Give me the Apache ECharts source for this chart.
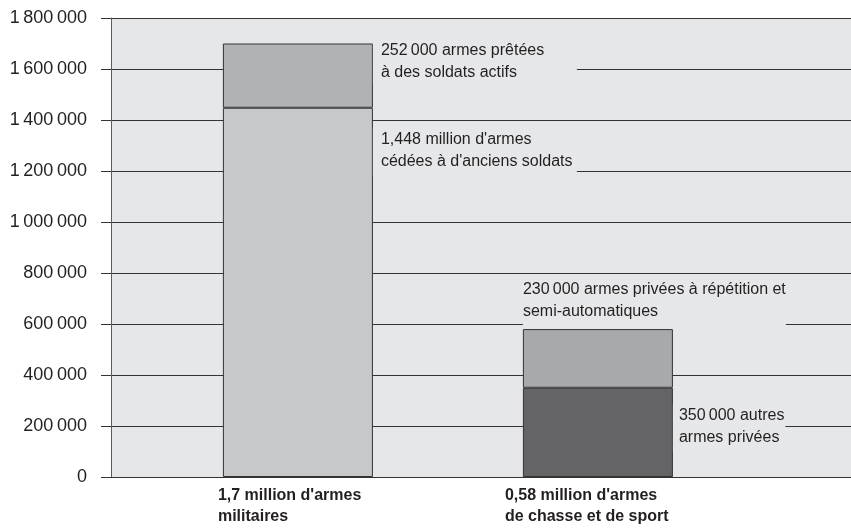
<!DOCTYPE html>
<html><head><meta charset="utf-8">
<script src="https://cdn.jsdelivr.net/npm/echarts@6/dist/echarts.min.js"></script>
<style>html,body{margin:0;padding:0;background:#fff}#c{width:851px;height:532px}</style>
</head><body><div id="c"></div>
<script>
// ---- data ----
const categories = ["1,7 million d'armes\nmilitaires", "0,58 million d'armes\nde chasse et de sport"];
const baseValues = [1448000, 350000];
const topValues = [252000, 230000];
const baseLabels = ["1,448 million d'armes\ncédées à d'anciens soldats", "350\u2009000 autres\narmes privées"];
const topLabels = ["252\u2009000 armes prêtées\nà des soldats actifs", "230\u2009000 armes privées à répétition et\nsemi-automatiques"];
const yMin = 0, yMax = 1800000, yInterval = 200000;

// ---- styles ----
const baseColors = ['#c7c8ca', '#646466'];
const topColors = ['#b1b2b5', '#a8a9ac'];
const FONT = "'Liberation Sans', Arial, sans-serif";
const PLOT_BG = '#e6e7e9';
const TEXT = '#231f20';
const LINE = '#333333';

const topLabelCfg = [
  {position: ['100%', -3.5], padding: [0, 0, 0, 8], width: 196},
  {position: [0, -51], padding: [0, 0, 4, 0]}
];
const baseLabelCfg = [
  {position: ['100%', 20.5], padding: [0, 0, 4, 8], width: 196},
  {position: ['100%', 16.5], padding: [0, 1, 4, 6]}
];
const catLabelWidth = [160, 186];

function fmtNum(v) {
  return String(v).replace(/\B(?=(\d{3})+(?!\d))/g, '\u2009');
}

function makeData(values, colors, texts, cfgs) {
  return values.map((v, i) => ({
    value: v,
    itemStyle: {color: colors[i], borderColor: LINE, borderWidth: 1},
    label: Object.assign({
      show: true,
      formatter: texts[i],
      align: 'left',
      verticalAlign: 'top',
      fontSize: 16,
      lineHeight: 22,
      fontFamily: FONT,
      color: TEXT,
      backgroundColor: PLOT_BG
    }, cfgs[i])
  }));
}

const rich = {};
catLabelWidth.forEach((w, i) => {
  rich['c' + i] = {fontSize: 16, fontWeight: 'bold', fontFamily: FONT, color: TEXT,
    width: w, align: 'left', lineHeight: 21};
});

const chart = echarts.init(document.getElementById('c'), null, {renderer: 'canvas'});
chart.setOption({
  animation: false,
  backgroundColor: '#ffffff',
  grid: [
    {left: 111, right: 0, top: 18, bottom: 55, show: true, backgroundColor: PLOT_BG, borderWidth: 0},
    {left: 147.9, width: 600, top: 18, bottom: 55, show: false}
  ],
  xAxis: [
    {type: 'category', gridIndex: 0, data: [''], axisLabel: {show: false}, axisTick: {show: false},
      axisLine: {show: true, lineStyle: {color: LINE, width: 1}}, splitLine: {show: false}},
    {type: 'category', gridIndex: 1, data: categories, axisTick: {show: false},
      axisLine: {show: false},
      axisLabel: {interval: 0, margin: 8, rich: rich,
        formatter: (val, idx) => val.split('\n').map(l => '{c' + idx + '|' + l + '}').join('\n')}}
  ],
  yAxis: [
    {type: 'value', gridIndex: 0, min: yMin, max: yMax, interval: yInterval,
      axisLine: {show: true, lineStyle: {color: '#5a5a5a', width: 1}},
      axisTick: {show: true, length: 10, lineStyle: {color: LINE}},
      axisLabel: {margin: 24, fontSize: 18, fontFamily: FONT, color: TEXT, formatter: fmtNum},
      splitLine: {show: true, lineStyle: {color: LINE, width: 1}}},
    {type: 'value', gridIndex: 1, min: yMin, max: yMax, interval: yInterval, show: false,
      splitLine: {show: false}}
  ],
  series: [
    {type: 'bar', xAxisIndex: 1, yAxisIndex: 1, stack: 'total', barWidth: 150,
      data: makeData(baseValues, baseColors, baseLabels, baseLabelCfg)},
    {type: 'bar', xAxisIndex: 1, yAxisIndex: 1, stack: 'total', barWidth: 150,
      data: makeData(topValues, topColors, topLabels, topLabelCfg)}
  ]
});
</script>
</body></html>
